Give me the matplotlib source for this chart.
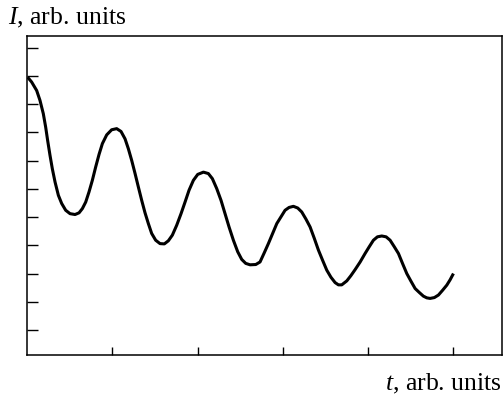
import matplotlib
matplotlib.use("Agg")
import matplotlib.pyplot as plt

# Damped oscillation of intensity I versus time t (arbitrary units)
t_values = [0.004, 0.051, 0.110, 0.149, 0.188, 0.216, 0.239, 0.267, 0.294, 0.326,
            0.365, 0.404, 0.451, 0.502, 0.561, 0.608, 0.647, 0.686, 0.725, 0.764,
            0.803, 0.843, 0.882, 0.933, 0.991, 1.050, 1.101, 1.148, 1.187, 1.226,
            1.266, 1.305, 1.344, 1.383, 1.422, 1.461, 1.508, 1.559, 1.610, 1.657,
            1.704, 1.755, 1.806, 1.853, 1.900, 1.951, 2.002, 2.069, 2.127, 2.174,
            2.225, 2.276, 2.323, 2.370, 2.421, 2.472, 2.519, 2.566, 2.617, 2.684,
            2.734, 2.783, 2.832, 2.931, 3.028, 3.075, 3.126, 3.177, 3.224, 3.273,
            3.322, 3.371, 3.420, 3.469, 3.518, 3.567, 3.616, 3.655, 3.694, 3.753,
            3.800, 3.851, 3.910, 3.968, 4.017, 4.066, 4.113, 4.164, 4.215, 4.262,
            4.311, 4.360, 4.409, 4.458, 4.507, 4.556, 4.605, 4.653, 4.693, 4.732,
            4.782, 4.830, 4.879, 4.928, 4.967, 5.006]
i_values = [9.95, 9.78, 9.48, 9.13, 8.66, 8.18, 7.71, 7.18, 6.71, 6.24,
            5.77, 5.48, 5.24, 5.12, 5.09, 5.15, 5.30, 5.53, 5.89, 6.30,
            6.77, 7.22, 7.60, 7.91, 8.09, 8.13, 8.03, 7.77, 7.42, 7.01,
            6.54, 6.06, 5.59, 5.15, 4.77, 4.42, 4.18, 4.06, 4.05, 4.16,
            4.36, 4.71, 5.12, 5.53, 5.95, 6.30, 6.51, 6.59, 6.54, 6.36,
            6.01, 5.59, 5.12, 4.65, 4.18, 3.77, 3.50, 3.36, 3.31, 3.32,
            3.41, 3.73, 4.06, 4.77, 5.24, 5.34, 5.38, 5.32, 5.18, 4.93,
            4.65, 4.25, 3.83, 3.47, 3.12, 2.87, 2.68, 2.60, 2.60, 2.74,
            2.92, 3.14, 3.41, 3.71, 3.95, 4.18, 4.30, 4.33, 4.30, 4.18,
            3.95, 3.71, 3.35, 3.00, 2.73, 2.47, 2.33, 2.20, 2.14, 2.12,
            2.15, 2.24, 2.41, 2.59, 2.78, 3.00]

x_ticks = [1, 2, 3, 4, 5]
y_ticks = [1, 2, 3, 4, 5, 6, 7, 8, 9, 10, 11]

plt.rcParams["mathtext.fontset"] = "custom"
plt.rcParams["mathtext.rm"] = "Liberation Serif"
plt.rcParams["mathtext.it"] = "Liberation Serif:italic"

W, H = 503, 394
fig = plt.figure(figsize=(W / 100, H / 100), dpi=100)
ax = fig.add_axes([27.3 / W, 1 - 355 / H, (502.3 - 27.3) / W, (355 - 35.7) / H])

ax.plot(t_values, i_values, color="black", lw=2.2,
        solid_capstyle="butt", solid_joinstyle="round")

ax.set_xlim(0, 5.58)
ax.set_ylim(0.117, 11.42)
ax.set_xticks(x_ticks)
ax.set_yticks(y_ticks)
ax.set_xticklabels([])
ax.set_yticklabels([])
ax.tick_params(axis="x", direction="in", length=5.5, width=1.0, color="black")
ax.tick_params(axis="y", direction="in", length=8, width=1.0, color="black")
for sp in ax.spines.values():
    sp.set_linewidth(1.1)
    sp.set_color("black")
    sp.set_clip_on(False)

fig.text(8 / W, 1 - 24 / H, r"$I$, arb. units", family="Liberation Serif",
         fontsize=18.5, ha="left", va="baseline")
fig.text(385 / W, 1 - 390 / H, r"$t$, arb. units", family="Liberation Serif",
         fontsize=18.5, ha="left", va="baseline")

fig.savefig("out.png", dpi=100)
